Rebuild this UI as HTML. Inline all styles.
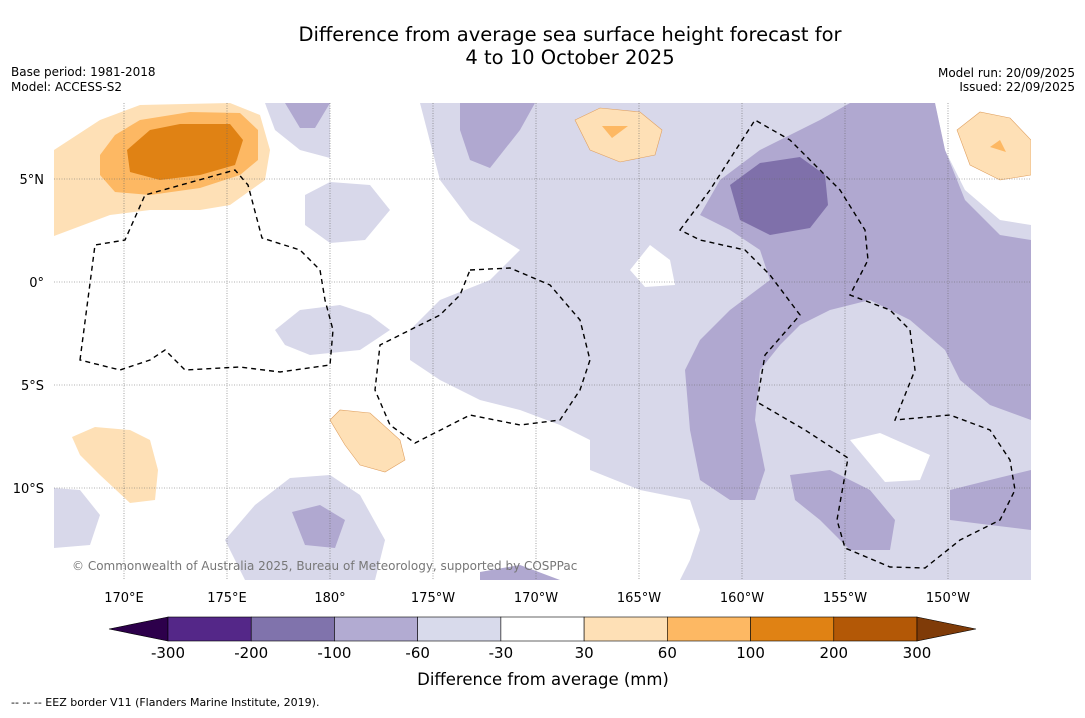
<!DOCTYPE html>
<html><head><meta charset="utf-8"><style>
body{margin:0;background:#fff;width:1085px;height:713px;overflow:hidden;font-family:"Liberation Sans","DejaVu Sans",sans-serif}
svg text{font-family:"DejaVu Sans","Liberation Sans",sans-serif}
</style></head><body>
<svg width="1085" height="713" viewBox="0 0 1085 713" xmlns="http://www.w3.org/2000/svg">
<text x="570" y="41" font-size="19.5" text-anchor="middle">Difference from average sea surface height forecast for</text>
<text x="570" y="64" font-size="19.5" text-anchor="middle">4 to 10 October 2025</text>
<text x="11" y="76" font-size="12">Base period: 1981-2018</text>
<text x="11" y="91" font-size="12">Model: ACCESS-S2</text>
<text x="1075" y="77" font-size="12" text-anchor="end">Model run: 20/09/2025</text>
<text x="1075" y="91" font-size="12" text-anchor="end">Issued: 22/09/2025</text>
<defs><clipPath id="mc"><rect x="54" y="103" width="977" height="477"/></clipPath></defs>
<g id="map" clip-path="url(#mc)">
<rect x="54" y="103" width="977" height="477" fill="#fff"/>
<g fill="#d8d8ea">
<path d="M420,103L1031,103L1031,580L680,580L690,560L700,530L690,500L640,490L590,470L590,440L560,425L520,410L480,400L440,380L410,360L410,330L440,300L490,280L520,250L470,220L440,180Z"/>
<path d="M265,103L330,103L330,158L300,150L275,130Z"/>
<path d="M305,195L330,182L370,185L390,210L365,240L330,243L305,225Z"/>
<path d="M275,330L300,310L340,305L370,315L390,330L360,350L310,355L285,345Z"/>
<path d="M225,540L255,505L290,478L330,475L360,495L385,540L375,580L245,580Z"/>
<path d="M54,488L80,490L100,515L90,545L54,548Z"/>
</g>
<g fill="#fff">
<path d="M935,103L1031,103L1031,225L1000,220L965,190L945,150Z"/>
<path d="M630,270L650,245L670,260L675,285L645,287Z"/>
<path d="M850,440L880,433L930,455L920,480L885,482Z"/>
</g>
<g fill="#b0a8d0">
<path d="M720,180L760,150L820,120L850,103L935,103L945,150L965,200L1000,235L1031,240L1031,420L990,405L960,380L945,350L910,320L870,300L830,310L800,325L780,345L760,370L755,420L765,470L755,500L730,500L700,480L690,430L685,370L700,340L730,310L770,280L760,250L730,230L700,215Z"/>
<path d="M790,475L830,470L870,490L895,520L890,550L850,550L820,520L795,500Z"/>
<path d="M950,490L990,480L1031,470L1031,530L990,525L950,520Z"/>
<path d="M285,103L330,103L315,128L300,128Z"/>
<path d="M460,103L535,103L520,130L490,168L470,160L460,130Z"/>
<path d="M292,512L320,505L345,520L335,548L305,545Z"/>
<path d="M1020,345L1031,330L1031,362Z"/>
<path d="M480,572L520,565L560,580L480,580Z"/>
</g>
<path fill="#7f70aa" d="M730,185L760,163L800,157L825,175L828,205L810,228L770,235L740,220Z"/>
<g>
<path fill="#fee0b6" d="M54,150L100,120L140,105L230,103L260,115L270,150L265,180L230,205L200,210L150,210L110,215L54,236Z"/>
<path fill="#fdb863" d="M100,155L115,135L140,120L190,112L240,113L258,130L258,160L240,175L200,188L150,195L115,192L100,175Z"/>
<path fill="#e08214" d="M127,150L150,130L180,124L230,124L243,140L235,165L200,175L160,180L130,172Z"/>
<path fill="#fee0b6" stroke="#e0a060" stroke-width="0.6" d="M575,120L600,108L640,112L662,130L655,155L620,162L590,150Z"/>
<path fill="#fdb863" d="M602,126L628,126L612,138Z"/>
<path fill="#fee0b6" stroke="#e0a060" stroke-width="0.6" d="M957,130L980,112L1010,118L1031,140L1031,175L1000,180L970,165Z"/>
<path fill="#fdb863" d="M990,147L1000,140L1006,152Z"/>
<path fill="#fee0b6" d="M72,437L95,427L130,430L150,440L158,470L155,500L130,503L100,475L80,455Z"/>
<path fill="#fee0b6" stroke="#e0a060" stroke-width="0.6" d="M330,420L340,410L370,413L400,440L405,460L385,472L360,465L345,445Z"/>
</g>
<g id="grid" stroke="#666" stroke-width="0.6" stroke-dasharray="1,1.5"></g>
<g fill="none" stroke="#000" stroke-width="1.4" stroke-dasharray="5,4">
<path d="M80,360L95,245L125,240L145,195L235,170L248,185L262,238L300,250L320,270L325,300L333,330L330,365L280,372L240,367L185,370L165,350L150,360L120,370Z"/>
<path d="M470,270L510,268L550,285L580,320L590,360L580,390L560,420L520,425L470,415L415,443L390,425L375,390L380,345L440,315L460,295Z"/>
<path d="M680,230L710,190L755,120L790,140L840,190L865,230L868,260L850,295L890,310L910,330L915,370L895,420L950,415L990,430L1010,460L1015,490L1000,520L960,540L925,568L890,567L845,548L837,520L848,458L805,430L757,402L765,355L800,315L770,275L745,250L700,240Z"/>
</g>
<text x="72" y="570" font-size="12" fill="#777">© Commonwealth of Australia 2025, Bureau of Meteorology, supported by COSPPac</text>
</g>
<g id="lonlabels" font-size="13"></g>
<g id="latlabels" font-size="13"></g>
<g id="cbar"></g>
<text x="543" y="685" font-size="16.5" text-anchor="middle">Difference from average (mm)</text>
<text x="11" y="706" font-size="11">-- -- -- EEZ border V11 (Flanders Marine Institute, 2019).</text>
</svg>
<script>
const lonTicks=[170,175,180,185,190,195,200,205,210];
const lonLabels=["170°E","175°E","180°","175°W","170°W","165°W","160°W","155°W","150°W"];
const latTicks=[5,0,-5,-10];
const latLabels=["5°N","0°","5°S","10°S"];
const cbBounds=["-300","-200","-100","-60","-30","30","60","100","200","300"];
const cbColors=["#542788","#8073ac","#b2abd2","#d8daeb","#ffffff","#fee0b6","#fdb863","#e08214","#b35806"];
const NS="http://www.w3.org/2000/svg";
const xLon=l=>124+(l-170)*20.6, yLat=a=>282-a*20.6;
function mk(t,a,p){const e=document.createElementNS(NS,t);for(const k in a)e.setAttribute(k,a[k]);p.appendChild(e);return e;}
const grid=document.getElementById('grid'),lonG=document.getElementById('lonlabels'),latG=document.getElementById('latlabels'),cb=document.getElementById('cbar');
lonTicks.forEach((l,i)=>{const x=xLon(l);
const g=mk('line',{x1:x,x2:x,y1:103,y2:580},grid);


const t=mk('text',{x:x,y:602,'text-anchor':'middle'},lonG);t.textContent=lonLabels[i];

});
latTicks.forEach((a,i)=>{const y=yLat(a);
const g=mk('line',{x1:54,x2:1031,y1:y,y2:y},grid);


const t=mk('text',{x:44,y:y+5,'text-anchor':'end'},latG);t.textContent=latLabels[i];

});
const x0=168,x1=917,yT=617,yB=641,w=(x1-x0)/cbColors.length;
const la=mk('path',{d:`M${x0},${yT}L109,629L${x0},${yB}Z`,fill:'#2d004b',stroke:'#000','stroke-width':0.6},cb);


cbColors.forEach((c,i)=>{const r=mk('rect',{x:x0+i*w,y:yT,width:w,height:yB-yT,fill:c,stroke:'#000','stroke-width':0.6},cb);

});
const ra=mk('path',{d:`M${x1},${yT}L976,629L${x1},${yB}Z`,fill:'#7f3b08',stroke:'#000','stroke-width':0.6},cb);


cbBounds.forEach((b,i)=>{const t=mk('text',{x:x0+i*w,y:658,'text-anchor':'middle','font-size':15},cb);t.textContent=b;

});
</script>
</body></html>
